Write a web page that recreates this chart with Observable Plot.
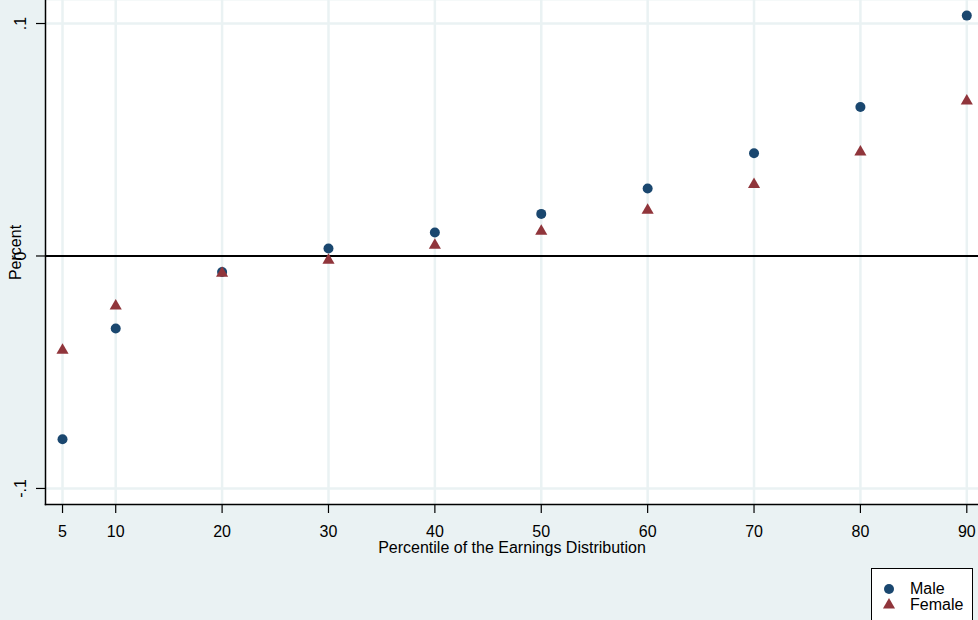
<!DOCTYPE html>
<html>
<head>
<meta charset="utf-8">
<script src="https://cdn.jsdelivr.net/npm/d3@7"></script>
<script src="https://cdn.jsdelivr.net/npm/@observablehq/plot@0.6"></script>
<style>
  html, body { margin: 0; padding: 0; background: #EAF2F3; }
  #wrap { position: relative; width: 978px; height: 620px; overflow: hidden; font-family: "Liberation Sans", Arial, sans-serif; }
  #legend { position: absolute; left: 871px; top: 568px; width: 102px; height: 70px; background: #fff; border: 1px solid #000; box-sizing: border-box; font-size: 16px; color: #000; }
  #legend .item { position: absolute; left: 0; height: 16px; line-height: 16px; }
  #legend svg { position: absolute; left: 10px; top: 1px; }
  #legend span { position: absolute; left: 38px; top: 0; white-space: nowrap; }
</style>
</head>
<body>
<div id="wrap">
  <div id="chart"></div>
  <div id="legend"></div>
</div>
<script>
const percentiles = [5, 10, 20, 30, 40, 50, 60, 70, 80, 90];
const maleValues   = [-0.0788, -0.0312, -0.0069, 0.0032, 0.0101, 0.0181, 0.0290, 0.0442, 0.0641, 0.1034];
const femaleValues = [-0.0406, -0.0215, -0.0074, -0.0018, 0.0046, 0.0106, 0.0197, 0.0307, 0.0447, 0.0667];
const xTicks = [5, 10, 20, 30, 40, 50, 60, 70, 80, 90];
const yTicks = [-0.1, 0, 0.1];
const yTickLabels = ["-.1", "0", ".1"];
const seriesNames = ["Male", "Female"];
const seriesColors = ["#1A476F", "#90353B"];
const xTitle = "Percentile of the Earnings Distribution";
const yTitle = "Percent";

const male = percentiles.map((p, i) => ({p, v: maleValues[i]}));
const female = percentiles.map((p, i) => ({p, v: femaleValues[i]}));
const grid = "#EAF2F3";
const fs = 16;

const chart = Plot.plot({
  width: 978,
  height: 620,
  marginLeft: 45,
  marginRight: 0,
  marginTop: 0,
  marginBottom: 116,
  style: { background: "transparent", fontFamily: "'Liberation Sans', Arial, sans-serif", fontSize: "16px", color: "#000" },
  x: { domain: [3.4, 91.1], axis: null },
  y: { domain: [-0.1069, 0.1099], axis: null },
  marks: [
    Plot.frame({ fill: "white", stroke: "none" }),
    Plot.ruleX(xTicks, { x: d => d, stroke: grid, strokeWidth: 2.5 }),
    Plot.ruleY([-0.1, 0.1], { y: d => d, stroke: grid, strokeWidth: 2.5 }),
    Plot.ruleY([0], { y: d => d, stroke: "#000", strokeWidth: 2 }),
    Plot.frame({ anchor: "left", stroke: "#000", strokeWidth: 1.5 }),
    Plot.frame({ anchor: "bottom", stroke: "#000", strokeWidth: 1.5 }),
    Plot.axisX({ ticks: xTicks, tickSize: 9, tickFormat: () => "", label: null, stroke: "#000", strokeWidth: 1.2 }),
    Plot.axisY({ ticks: yTicks, tickSize: 9, tickFormat: () => "", label: null, stroke: "#000", strokeWidth: 1.2 }),
    Plot.text(xTicks, { x: d => d, frameAnchor: "bottom", dy: 27, lineAnchor: "middle", text: d => String(d), fontSize: fs, fill: "#000" }),
    Plot.text(yTicks, { y: d => d, frameAnchor: "left", dx: -25, rotate: -90, lineAnchor: "middle", textAnchor: "middle", text: (d, i) => yTickLabels[i], fontSize: fs, fill: "#000" }),
    Plot.text([yTitle], { frameAnchor: "left", dx: -30, rotate: -90, lineAnchor: "middle", textAnchor: "middle", text: d => d, fontSize: fs, fill: "#000" }),
    Plot.text([xTitle], { frameAnchor: "bottom", dy: 43, lineAnchor: "middle", textAnchor: "middle", text: d => d, fontSize: fs, fill: "#000" }),
    Plot.dot(male, { x: "p", y: "v", r: 5, fill: seriesColors[0], stroke: "none", symbol: "circle" }),
    Plot.dot(female, { x: "p", y: "v", r: 4.5, fill: seriesColors[1], stroke: "none", symbol: "triangle" })
  ]
});
document.getElementById("chart").appendChild(chart);

// legend
const legend = d3.select("#legend");
const symbols = [d3.symbolCircle, d3.symbolTriangle];
const sizes = [Math.PI * 25, Math.PI * 4.5 * 4.5];
seriesNames.forEach((name, i) => {
  const item = legend.append("div").attr("class", "item").style("top", (12 + i * 16) + "px").style("width", "100%");
  const s = item.append("svg").attr("width", 14).attr("height", 14);
  s.append("path").attr("transform", "translate(7,7)").attr("d", d3.symbol(symbols[i], sizes[i])()).attr("fill", seriesColors[i]);
  item.append("span").text(name);
});
</script>
</body>
</html>
